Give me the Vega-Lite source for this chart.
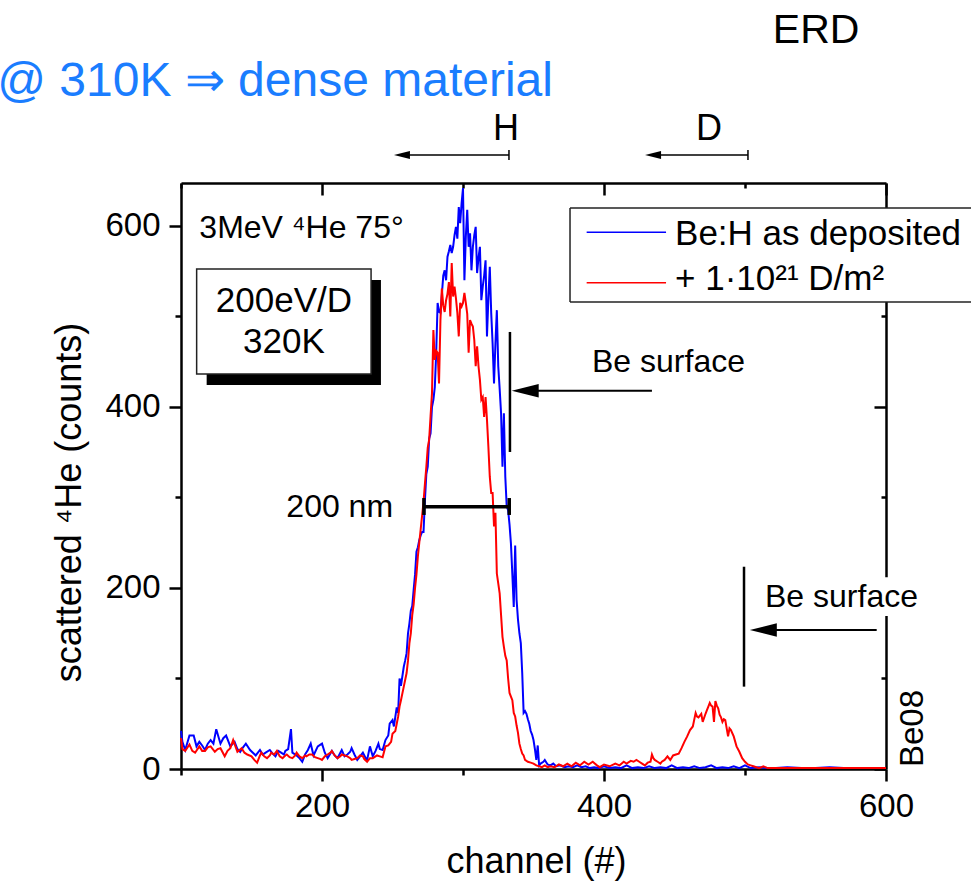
{
  "$schema": "https://vega.github.io/schema/vega-lite/v6.json",
  "width": 705,
  "height": 586,
  "autosize": "none",
  "padding": {"left": 181, "top": 183, "right": 85, "bottom": 114},
  "background": "white",
  "config": {"view": {"stroke": null}, "font": "Liberation Sans"},
  "datasets": {
    "blue": [
      {"ch":100,"cnt":42},{"ch":101,"cnt":30},{"ch":103,"cnt":21},{"ch":106,"cnt":37},{"ch":109,"cnt":37},{"ch":111,"cnt":25},{"ch":113,"cnt":30},{"ch":115,"cnt":26},{"ch":117,"cnt":21},{"ch":119,"cnt":28},{"ch":121,"cnt":32},{"ch":123,"cnt":28},{"ch":125,"cnt":44},{"ch":128,"cnt":28},{"ch":130,"cnt":34},{"ch":132,"cnt":37},{"ch":135,"cnt":25},{"ch":138,"cnt":30},{"ch":140,"cnt":22},{"ch":142,"cnt":19},{"ch":144,"cnt":24},{"ch":146,"cnt":28},{"ch":149,"cnt":21},{"ch":151,"cnt":18},{"ch":153,"cnt":15},{"ch":156,"cnt":21},{"ch":158,"cnt":16},{"ch":160,"cnt":18},{"ch":163,"cnt":21},{"ch":165,"cnt":17},{"ch":167,"cnt":14},{"ch":169,"cnt":20},{"ch":171,"cnt":18},{"ch":173,"cnt":16},{"ch":174,"cnt":20},{"ch":176,"cnt":22},{"ch":178,"cnt":44},{"ch":179,"cnt":18},{"ch":182,"cnt":15},{"ch":184,"cnt":12},{"ch":186,"cnt":8},{"ch":188,"cnt":16},{"ch":190,"cnt":21},{"ch":192,"cnt":28},{"ch":194,"cnt":15},{"ch":197,"cnt":25},{"ch":200,"cnt":28},{"ch":202,"cnt":18},{"ch":204,"cnt":12},{"ch":207,"cnt":20},{"ch":209,"cnt":15},{"ch":211,"cnt":12},{"ch":213,"cnt":18},{"ch":214,"cnt":21},{"ch":216,"cnt":14},{"ch":218,"cnt":16},{"ch":220,"cnt":19},{"ch":221,"cnt":23},{"ch":223,"cnt":16},{"ch":225,"cnt":10},{"ch":227,"cnt":14},{"ch":229,"cnt":18},{"ch":231,"cnt":12},{"ch":232,"cnt":10},{"ch":234,"cnt":25},{"ch":236,"cnt":14},{"ch":238,"cnt":20},{"ch":240,"cnt":28},{"ch":241,"cnt":22},{"ch":243,"cnt":21},{"ch":245,"cnt":32},{"ch":247,"cnt":37},{"ch":248,"cnt":50},{"ch":250,"cnt":54},{"ch":251,"cnt":47},{"ch":253,"cnt":68},{"ch":254,"cnt":62},{"ch":255,"cnt":100},{"ch":256,"cnt":92},{"ch":258,"cnt":113},{"ch":259,"cnt":120},{"ch":260,"cnt":128},{"ch":261,"cnt":150},{"ch":262,"cnt":161},{"ch":263,"cnt":175},{"ch":264,"cnt":180},{"ch":265,"cnt":198},{"ch":266,"cnt":215},{"ch":267,"cnt":240},{"ch":268,"cnt":245},{"ch":269,"cnt":253},{"ch":270,"cnt":258},{"ch":271,"cnt":262},{"ch":272,"cnt":262},{"ch":273,"cnt":297},{"ch":274,"cnt":326},{"ch":275,"cnt":334},{"ch":276,"cnt":365},{"ch":277,"cnt":371},{"ch":278,"cnt":400},{"ch":279,"cnt":408},{"ch":280,"cnt":422},{"ch":281,"cnt":460},{"ch":282,"cnt":515},{"ch":283,"cnt":505},{"ch":284,"cnt":504},{"ch":285,"cnt":524},{"ch":286,"cnt":545},{"ch":287,"cnt":551},{"ch":288,"cnt":540},{"ch":289,"cnt":566},{"ch":290,"cnt":572},{"ch":291,"cnt":579},{"ch":292,"cnt":570},{"ch":293,"cnt":577},{"ch":294,"cnt":590},{"ch":295,"cnt":599},{"ch":296,"cnt":586},{"ch":297,"cnt":621},{"ch":298,"cnt":603},{"ch":299,"cnt":625},{"ch":300,"cnt":642},{"ch":301,"cnt":540},{"ch":302,"cnt":588},{"ch":303,"cnt":618},{"ch":304,"cnt":577},{"ch":305,"cnt":592},{"ch":306,"cnt":551},{"ch":307,"cnt":577},{"ch":308,"cnt":590},{"ch":309,"cnt":599},{"ch":310,"cnt":548},{"ch":311,"cnt":565},{"ch":312,"cnt":577},{"ch":313,"cnt":518},{"ch":314,"cnt":533},{"ch":315,"cnt":545},{"ch":316,"cnt":562},{"ch":317,"cnt":478},{"ch":318,"cnt":520},{"ch":319,"cnt":555},{"ch":320,"cnt":504},{"ch":321,"cnt":470},{"ch":322,"cnt":426},{"ch":323,"cnt":470},{"ch":324,"cnt":507},{"ch":325,"cnt":445},{"ch":326,"cnt":420},{"ch":327,"cnt":393},{"ch":328,"cnt":334},{"ch":329,"cnt":393},{"ch":330,"cnt":323},{"ch":331,"cnt":290},{"ch":332,"cnt":286},{"ch":333,"cnt":270},{"ch":334,"cnt":249},{"ch":335,"cnt":215},{"ch":336,"cnt":179},{"ch":337,"cnt":247},{"ch":338,"cnt":187},{"ch":339,"cnt":165},{"ch":340,"cnt":150},{"ch":341,"cnt":139},{"ch":342,"cnt":106},{"ch":343,"cnt":62},{"ch":344,"cnt":64},{"ch":345,"cnt":61},{"ch":346,"cnt":55},{"ch":347,"cnt":50},{"ch":348,"cnt":42},{"ch":349,"cnt":38},{"ch":350,"cnt":32},{"ch":351,"cnt":22},{"ch":352,"cnt":10},{"ch":353,"cnt":26},{"ch":354,"cnt":4},{"ch":355,"cnt":6},{"ch":357,"cnt":8},{"ch":358,"cnt":10},{"ch":360,"cnt":5},{"ch":362,"cnt":4},{"ch":364,"cnt":6},{"ch":366,"cnt":3},{"ch":369,"cnt":4},{"ch":372,"cnt":2},{"ch":375,"cnt":3},{"ch":378,"cnt":2},{"ch":381,"cnt":4},{"ch":384,"cnt":2},{"ch":387,"cnt":3},{"ch":390,"cnt":1},{"ch":393,"cnt":2},{"ch":396,"cnt":1},{"ch":400,"cnt":3},{"ch":404,"cnt":1},{"ch":408,"cnt":2},{"ch":412,"cnt":1},{"ch":416,"cnt":4},{"ch":420,"cnt":1},{"ch":424,"cnt":2},{"ch":428,"cnt":1},{"ch":432,"cnt":3},{"ch":436,"cnt":1},{"ch":440,"cnt":2},{"ch":444,"cnt":1},{"ch":448,"cnt":4},{"ch":452,"cnt":1},{"ch":456,"cnt":2},{"ch":460,"cnt":1},{"ch":464,"cnt":3},{"ch":468,"cnt":1},{"ch":472,"cnt":2},{"ch":476,"cnt":4},{"ch":480,"cnt":1},{"ch":484,"cnt":2},{"ch":488,"cnt":1},{"ch":492,"cnt":3},{"ch":496,"cnt":1},{"ch":500,"cnt":4},{"ch":504,"cnt":1},{"ch":510,"cnt":2},{"ch":516,"cnt":1},{"ch":522,"cnt":1},{"ch":530,"cnt":2},{"ch":540,"cnt":1},{"ch":550,"cnt":1},{"ch":560,"cnt":2},{"ch":570,"cnt":1},{"ch":580,"cnt":1},{"ch":590,"cnt":1},{"ch":600,"cnt":1}
    ],
    "red": [
      {"ch":100,"cnt":34},{"ch":101,"cnt":22},{"ch":103,"cnt":20},{"ch":106,"cnt":27},{"ch":108,"cnt":20},{"ch":110,"cnt":18},{"ch":113,"cnt":25},{"ch":115,"cnt":20},{"ch":117,"cnt":20},{"ch":119,"cnt":24},{"ch":121,"cnt":25},{"ch":124,"cnt":19},{"ch":126,"cnt":22},{"ch":128,"cnt":23},{"ch":131,"cnt":14},{"ch":133,"cnt":20},{"ch":135,"cnt":23},{"ch":137,"cnt":32},{"ch":140,"cnt":19},{"ch":143,"cnt":23},{"ch":145,"cnt":18},{"ch":147,"cnt":16},{"ch":150,"cnt":14},{"ch":152,"cnt":10},{"ch":154,"cnt":7},{"ch":156,"cnt":15},{"ch":157,"cnt":18},{"ch":159,"cnt":14},{"ch":161,"cnt":12},{"ch":163,"cnt":15},{"ch":164,"cnt":18},{"ch":166,"cnt":16},{"ch":168,"cnt":20},{"ch":170,"cnt":14},{"ch":172,"cnt":12},{"ch":174,"cnt":15},{"ch":175,"cnt":16},{"ch":177,"cnt":13},{"ch":179,"cnt":12},{"ch":181,"cnt":15},{"ch":182,"cnt":18},{"ch":184,"cnt":14},{"ch":186,"cnt":12},{"ch":188,"cnt":15},{"ch":189,"cnt":14},{"ch":191,"cnt":16},{"ch":193,"cnt":16},{"ch":195,"cnt":13},{"ch":197,"cnt":12},{"ch":199,"cnt":11},{"ch":200,"cnt":10},{"ch":202,"cnt":14},{"ch":204,"cnt":16},{"ch":206,"cnt":18},{"ch":207,"cnt":20},{"ch":209,"cnt":15},{"ch":211,"cnt":12},{"ch":213,"cnt":14},{"ch":214,"cnt":16},{"ch":216,"cnt":15},{"ch":218,"cnt":14},{"ch":220,"cnt":12},{"ch":221,"cnt":10},{"ch":223,"cnt":11},{"ch":225,"cnt":12},{"ch":227,"cnt":15},{"ch":229,"cnt":14},{"ch":230,"cnt":11},{"ch":232,"cnt":8},{"ch":234,"cnt":12},{"ch":236,"cnt":12},{"ch":238,"cnt":14},{"ch":239,"cnt":15},{"ch":241,"cnt":14},{"ch":243,"cnt":13},{"ch":245,"cnt":25},{"ch":247,"cnt":26},{"ch":249,"cnt":30},{"ch":250,"cnt":39},{"ch":252,"cnt":42},{"ch":253,"cnt":50},{"ch":254,"cnt":58},{"ch":255,"cnt":69},{"ch":256,"cnt":76},{"ch":258,"cnt":91},{"ch":260,"cnt":106},{"ch":261,"cnt":120},{"ch":262,"cnt":139},{"ch":263,"cnt":150},{"ch":264,"cnt":170},{"ch":265,"cnt":182},{"ch":266,"cnt":200},{"ch":267,"cnt":215},{"ch":268,"cnt":235},{"ch":269,"cnt":250},{"ch":270,"cnt":265},{"ch":271,"cnt":280},{"ch":272,"cnt":295},{"ch":273,"cnt":315},{"ch":274,"cnt":334},{"ch":275,"cnt":355},{"ch":276,"cnt":364},{"ch":277,"cnt":390},{"ch":278,"cnt":415},{"ch":279,"cnt":485},{"ch":280,"cnt":452},{"ch":281,"cnt":462},{"ch":282,"cnt":460},{"ch":283,"cnt":426},{"ch":284,"cnt":496},{"ch":285,"cnt":531},{"ch":286,"cnt":512},{"ch":287,"cnt":505},{"ch":288,"cnt":518},{"ch":289,"cnt":525},{"ch":290,"cnt":538},{"ch":291,"cnt":500},{"ch":292,"cnt":559},{"ch":293,"cnt":522},{"ch":294,"cnt":533},{"ch":295,"cnt":520},{"ch":296,"cnt":504},{"ch":297,"cnt":478},{"ch":298,"cnt":515},{"ch":299,"cnt":511},{"ch":300,"cnt":515},{"ch":301,"cnt":526},{"ch":302,"cnt":515},{"ch":303,"cnt":503},{"ch":304,"cnt":460},{"ch":305,"cnt":496},{"ch":306,"cnt":492},{"ch":307,"cnt":489},{"ch":308,"cnt":474},{"ch":309,"cnt":445},{"ch":310,"cnt":467},{"ch":311,"cnt":445},{"ch":312,"cnt":430},{"ch":313,"cnt":408},{"ch":314,"cnt":411},{"ch":315,"cnt":389},{"ch":316,"cnt":411},{"ch":317,"cnt":386},{"ch":318,"cnt":356},{"ch":319,"cnt":323},{"ch":320,"cnt":305},{"ch":321,"cnt":305},{"ch":322,"cnt":268},{"ch":323,"cnt":283},{"ch":324,"cnt":216},{"ch":325,"cnt":205},{"ch":326,"cnt":194},{"ch":327,"cnt":170},{"ch":328,"cnt":146},{"ch":329,"cnt":135},{"ch":330,"cnt":125},{"ch":331,"cnt":120},{"ch":332,"cnt":100},{"ch":333,"cnt":84},{"ch":334,"cnt":80},{"ch":335,"cnt":76},{"ch":336,"cnt":62},{"ch":337,"cnt":58},{"ch":338,"cnt":48},{"ch":339,"cnt":40},{"ch":340,"cnt":28},{"ch":341,"cnt":22},{"ch":342,"cnt":17},{"ch":343,"cnt":15},{"ch":344,"cnt":10},{"ch":346,"cnt":8},{"ch":348,"cnt":7},{"ch":350,"cnt":6},{"ch":352,"cnt":4},{"ch":354,"cnt":3},{"ch":356,"cnt":2},{"ch":358,"cnt":4},{"ch":360,"cnt":2},{"ch":362,"cnt":3},{"ch":365,"cnt":2},{"ch":368,"cnt":5},{"ch":371,"cnt":3},{"ch":374,"cnt":6},{"ch":377,"cnt":3},{"ch":380,"cnt":7},{"ch":383,"cnt":4},{"ch":386,"cnt":8},{"ch":389,"cnt":5},{"ch":392,"cnt":8},{"ch":395,"cnt":4},{"ch":397,"cnt":2},{"ch":400,"cnt":5},{"ch":404,"cnt":3},{"ch":408,"cnt":6},{"ch":411,"cnt":4},{"ch":414,"cnt":8},{"ch":416,"cnt":6},{"ch":419,"cnt":9},{"ch":421,"cnt":8},{"ch":423,"cnt":10},{"ch":425,"cnt":8},{"ch":427,"cnt":6},{"ch":429,"cnt":4},{"ch":431,"cnt":7},{"ch":433,"cnt":8},{"ch":434,"cnt":16},{"ch":435,"cnt":12},{"ch":436,"cnt":10},{"ch":438,"cnt":8},{"ch":440,"cnt":6},{"ch":441,"cnt":8},{"ch":443,"cnt":10},{"ch":445,"cnt":14},{"ch":447,"cnt":10},{"ch":449,"cnt":15},{"ch":451,"cnt":16},{"ch":453,"cnt":17},{"ch":455,"cnt":23},{"ch":457,"cnt":30},{"ch":459,"cnt":36},{"ch":461,"cnt":43},{"ch":463,"cnt":47},{"ch":465,"cnt":62},{"ch":466,"cnt":58},{"ch":467,"cnt":57},{"ch":469,"cnt":61},{"ch":470,"cnt":52},{"ch":472,"cnt":61},{"ch":473,"cnt":65},{"ch":474,"cnt":69},{"ch":475,"cnt":73},{"ch":476,"cnt":70},{"ch":477,"cnt":69},{"ch":478,"cnt":52},{"ch":479,"cnt":75},{"ch":480,"cnt":70},{"ch":481,"cnt":67},{"ch":482,"cnt":60},{"ch":483,"cnt":57},{"ch":484,"cnt":52},{"ch":485,"cnt":55},{"ch":486,"cnt":54},{"ch":488,"cnt":36},{"ch":489,"cnt":45},{"ch":490,"cnt":43},{"ch":492,"cnt":36},{"ch":494,"cnt":25},{"ch":496,"cnt":19},{"ch":498,"cnt":12},{"ch":500,"cnt":8},{"ch":502,"cnt":5},{"ch":504,"cnt":4},{"ch":506,"cnt":3},{"ch":508,"cnt":2},{"ch":510,"cnt":1},{"ch":513,"cnt":3},{"ch":516,"cnt":1},{"ch":520,"cnt":1},{"ch":530,"cnt":1},{"ch":540,"cnt":1},{"ch":560,"cnt":1},{"ch":580,"cnt":1},{"ch":600,"cnt":1}
    ],
    "boxes": [
      {"k":"shadow","x1":118.2,"x2":241.8,"y1":424.3,"y2":540.3},
      {"k":"box","x1":111.1,"x2":234.8,"y1":436.5,"y2":552.5},
      {"k":"legend","x1":375.9,"x2":720,"y1":516,"y2":619.9},
      {"k":"mask","x1":512.8,"x2":625.5,"y1":169,"y2":212}
    ],
    "segs": [
      {"k":"bar","x1":333.3,"x2":333.3,"y1":350.3,"y2":482.9},
      {"k":"bar","x1":499.3,"x2":499.3,"y1":91,"y2":223.5},
      {"k":"shaft","x1":344,"x2":434,"y1":418,"y2":418},
      {"k":"shaft","x1":513,"x2":593.4,"y1":153.6,"y2":153.6},
      {"k":"nm","x1":272.3,"x2":332.8,"y1":289.8,"y2":289.8},
      {"k":"nm","x1":272.3,"x2":272.3,"y1":280.7,"y2":299.4},
      {"k":"nm","x1":332.8,"x2":332.8,"y1":280.7,"y2":299.4},
      {"k":"top","x1":256.7,"x2":332.6,"y1":678.5,"y2":678.5},
      {"k":"top","x1":332.6,"x2":332.6,"y1":673,"y2":684},
      {"k":"top","x1":434.8,"x2":502.1,"y1":678.5,"y2":678.5},
      {"k":"top","x1":502.1,"x2":502.1,"y1":673,"y2":684},
      {"k":"legframe","x1":375.9,"x2":720,"y1":619.9,"y2":619.9},
      {"k":"legframe","x1":375.9,"x2":720,"y1":516,"y2":516},
      {"k":"legframe","x1":375.9,"x2":375.9,"y1":516,"y2":619.9},
      {"k":"legb","x1":387.7,"x2":444,"y1":593,"y2":593},
      {"k":"legr","x1":387.7,"x2":444,"y1":537.3,"y2":537.3}
    ],
    "heads": [
      {"k":"big","ch":344.1,"cnt":418},
      {"k":"big","ch":513.0,"cnt":153.6},
      {"k":"small","ch":256.7,"cnt":678.5},
      {"k":"small","ch":434.8,"cnt":678.5}
    ],
    "notes": [
      {"k":"title","ch":363.8,"cnt":743.6,"t":"@ 310K ⇒ dense material"},
      {"k":"erd","ch":550.4,"cnt":802,"t":"ERD"},
      {"k":"hd","ch":330.5,"cnt":695,"t":"H"},
      {"k":"hd","ch":474.5,"cnt":695,"t":"D"},
      {"k":"beam","ch":113.0,"cnt":586.7,"t":"3MeV ⁴He 75°"},
      {"k":"box","ch":173,"cnt":505,"t":"200eV/D"},
      {"k":"box","ch":173,"cnt":459.7,"t":"320K"},
      {"k":"bes","ch":391.5,"cnt":438.7,"t":"Be surface"},
      {"k":"bes","ch":514.2,"cnt":179,"t":"Be surface"},
      {"k":"nm","ch":250.4,"cnt":278.5,"t":"200 nm"},
      {"k":"be08","ch":626.2,"cnt":2.2,"t":"Be08"},
      {"k":"leg","ch":450.4,"cnt":579,"t":"Be:H as deposited"},
      {"k":"leg","ch":450.4,"cnt":529.3,"t":"+ 1·10²¹ D/m²"}
    ]
  },
  "layer": [
    {
      "data": {"name": "blue"},
      "mark": {"type": "line", "color": "#0000ff", "strokeWidth": 2},
      "encoding": {
        "x": {"field": "ch", "type": "quantitative", "scale": {"domain": [100, 600], "nice": false, "zero": false},
          "axis": {"orient": "bottom", "values": [100,200,300,400,500,600], "labelExpr": "datum.value % 200 === 0 ? datum.label : ''",
            "tickSize": {"condition": {"test": "datum.value % 200 === 0", "value": 12}, "value": 6},
            "tickWidth": 2.5, "tickColor": "black", "domainWidth": 2.5, "domainColor": "black", "grid": false,
            "labelFontSize": 33, "labelColor": "black", "labelFont": "Liberation Sans", "labelPadding": 9, "labelFlush": false, "labelOverlap": false,
            "title": "channel (#)", "titleFontSize": 36, "titleFontWeight": "normal", "titleColor": "black", "titleFont": "Liberation Sans",
            "titleX": 355, "titleY": 103, "titleBaseline": "alphabetic", "titleAlign": "center"}},
        "y": {"field": "cnt", "type": "quantitative", "scale": {"domain": [0, 647.5], "nice": false},
          "axis": {"orient": "left", "values": [0,100,200,300,400,500,600], "labelExpr": "datum.value % 200 === 0 ? datum.label : ''",
            "tickSize": {"condition": {"test": "datum.value % 200 === 0", "value": 12}, "value": 6},
            "tickWidth": 2.5, "tickColor": "black", "domainWidth": 2.5, "domainColor": "black", "grid": false,
            "labelFontSize": 33, "labelColor": "black", "labelFont": "Liberation Sans", "labelPadding": 9, "labelFlush": false, "labelOverlap": false,
            "title": "scattered ⁴He (counts)", "titleFontSize": 36, "titleFontWeight": "normal", "titleColor": "black", "titleFont": "Liberation Sans",
            "titleX": -101, "titleY": 319, "titleAngle": 270, "titleBaseline": "alphabetic", "titleAlign": "center"}}
      }
    },
    {
      "data": {"name": "red"},
      "mark": {"type": "line", "color": "#ff0000", "strokeWidth": 2},
      "encoding": {
        "x": {"field": "ch", "type": "quantitative", "scale": {"domain": [100, 600], "nice": false, "zero": false},
          "axis": {"orient": "top", "values": [100,200,300,400,500,600], "labels": false, "title": null,
            "tickSize": {"condition": {"test": "datum.value % 200 === 0", "value": -12}, "value": -5},
            "tickWidth": 2.5, "tickColor": "black", "domainWidth": 2.5, "domainColor": "black", "grid": false}},
        "y": {"field": "cnt", "type": "quantitative", "scale": {"domain": [0, 647.5], "nice": false},
          "axis": {"orient": "right", "values": [0,100,200,300,400,500,600], "labels": false, "title": null,
            "tickSize": {"condition": {"test": "datum.value % 200 === 0", "value": -12}, "value": -5},
            "tickWidth": 2.5, "tickColor": "black", "domainWidth": 2.5, "domainColor": "black", "grid": false}}
      }
    },
    {
      "data": {"name": "boxes"},
      "transform": [{"filter": "datum.k === 'shadow'"}],
      "mark": {"type": "rect", "color": "black"},
      "encoding": {
        "x": {"field": "x1", "type": "quantitative", "scale": {"domain": [100, 600], "nice": false, "zero": false}, "axis": null},
        "x2": {"field": "x2"},
        "y": {"field": "y1", "type": "quantitative", "scale": {"domain": [0, 647.5], "nice": false}, "axis": null},
        "y2": {"field": "y2"}
      }
    },
    {
      "data": {"name": "boxes"},
      "transform": [{"filter": "datum.k === 'box'"}],
      "mark": {"type": "rect", "fill": "white", "stroke": "#222222", "strokeWidth": 1.5},
      "encoding": {
        "x": {"field": "x1", "type": "quantitative", "scale": {"domain": [100, 600], "nice": false, "zero": false}, "axis": null},
        "x2": {"field": "x2"},
        "y": {"field": "y1", "type": "quantitative", "scale": {"domain": [0, 647.5], "nice": false}, "axis": null},
        "y2": {"field": "y2"}
      }
    },
    {
      "data": {"name": "boxes"},
      "transform": [{"filter": "datum.k === 'mask' || datum.k === 'legend'"}],
      "mark": {"type": "rect", "fill": "white"},
      "encoding": {
        "x": {"field": "x1", "type": "quantitative", "scale": {"domain": [100, 600], "nice": false, "zero": false}, "axis": null},
        "x2": {"field": "x2"},
        "y": {"field": "y1", "type": "quantitative", "scale": {"domain": [0, 647.5], "nice": false}, "axis": null},
        "y2": {"field": "y2"}
      }
    },
    {
      "data": {"name": "segs"},
      "transform": [{"filter": "datum.k === 'legframe'"}],
      "mark": {"type": "rule", "color": "#222222", "strokeWidth": 1.5},
      "encoding": {
        "x": {"field": "x1", "type": "quantitative", "scale": {"domain": [100, 600], "nice": false, "zero": false}, "axis": null},
        "x2": {"field": "x2"},
        "y": {"field": "y1", "type": "quantitative", "scale": {"domain": [0, 647.5], "nice": false}, "axis": null},
        "y2": {"field": "y2"}
      }
    },
    {
      "data": {"name": "segs"},
      "transform": [{"filter": "datum.k === 'bar'"}],
      "mark": {"type": "rule", "color": "black", "strokeWidth": 2.5},
      "encoding": {
        "x": {"field": "x1", "type": "quantitative", "scale": {"domain": [100, 600], "nice": false, "zero": false}, "axis": null},
        "x2": {"field": "x2"},
        "y": {"field": "y1", "type": "quantitative", "scale": {"domain": [0, 647.5], "nice": false}, "axis": null},
        "y2": {"field": "y2"}
      }
    },
    {
      "data": {"name": "segs"},
      "transform": [{"filter": "datum.k === 'shaft'"}],
      "mark": {"type": "rule", "color": "black", "strokeWidth": 2},
      "encoding": {
        "x": {"field": "x1", "type": "quantitative", "scale": {"domain": [100, 600], "nice": false, "zero": false}, "axis": null},
        "x2": {"field": "x2"},
        "y": {"field": "y1", "type": "quantitative", "scale": {"domain": [0, 647.5], "nice": false}, "axis": null},
        "y2": {"field": "y2"}
      }
    },
    {
      "data": {"name": "segs"},
      "transform": [{"filter": "datum.k === 'nm'"}],
      "mark": {"type": "rule", "color": "black", "strokeWidth": 3.5},
      "encoding": {
        "x": {"field": "x1", "type": "quantitative", "scale": {"domain": [100, 600], "nice": false, "zero": false}, "axis": null},
        "x2": {"field": "x2"},
        "y": {"field": "y1", "type": "quantitative", "scale": {"domain": [0, 647.5], "nice": false}, "axis": null},
        "y2": {"field": "y2"}
      }
    },
    {
      "data": {"name": "segs"},
      "transform": [{"filter": "datum.k === 'top'"}],
      "mark": {"type": "rule", "color": "black", "strokeWidth": 1.5},
      "encoding": {
        "x": {"field": "x1", "type": "quantitative", "scale": {"domain": [100, 600], "nice": false, "zero": false}, "axis": null},
        "x2": {"field": "x2"},
        "y": {"field": "y1", "type": "quantitative", "scale": {"domain": [0, 647.5], "nice": false}, "axis": null},
        "y2": {"field": "y2"}
      }
    },
    {
      "data": {"name": "segs"},
      "transform": [{"filter": "datum.k === 'legb'"}],
      "mark": {"type": "rule", "color": "#0000ff", "strokeWidth": 1.5},
      "encoding": {
        "x": {"field": "x1", "type": "quantitative", "scale": {"domain": [100, 600], "nice": false, "zero": false}, "axis": null},
        "x2": {"field": "x2"},
        "y": {"field": "y1", "type": "quantitative", "scale": {"domain": [0, 647.5], "nice": false}, "axis": null},
        "y2": {"field": "y2"}
      }
    },
    {
      "data": {"name": "segs"},
      "transform": [{"filter": "datum.k === 'legr'"}],
      "mark": {"type": "rule", "color": "#ff0000", "strokeWidth": 1.5},
      "encoding": {
        "x": {"field": "x1", "type": "quantitative", "scale": {"domain": [100, 600], "nice": false, "zero": false}, "axis": null},
        "x2": {"field": "x2"},
        "y": {"field": "y1", "type": "quantitative", "scale": {"domain": [0, 647.5], "nice": false}, "axis": null},
        "y2": {"field": "y2"}
      }
    },
    {
      "data": {"name": "heads"},
      "transform": [{"filter": "datum.k === 'big'"}],
      "mark": {"type": "point", "shape": "M-1,0L1,-0.5L1,0.5Z", "filled": true, "color": "black", "opacity": 1, "size": 729, "strokeWidth": 0},
      "encoding": {
        "x": {"field": "ch", "type": "quantitative", "scale": {"domain": [100, 600], "nice": false, "zero": false}, "axis": null},
        "y": {"field": "cnt", "type": "quantitative", "scale": {"domain": [0, 647.5], "nice": false}, "axis": null}
      }
    },
    {
      "data": {"name": "heads"},
      "transform": [{"filter": "datum.k === 'small'"}],
      "mark": {"type": "point", "shape": "M-1,0L1,-0.5L1,0.5Z", "filled": true, "color": "black", "opacity": 1, "size": 256, "strokeWidth": 0},
      "encoding": {
        "x": {"field": "ch", "type": "quantitative", "scale": {"domain": [100, 600], "nice": false, "zero": false}, "axis": null},
        "y": {"field": "cnt", "type": "quantitative", "scale": {"domain": [0, 647.5], "nice": false}, "axis": null}
      }
    },
    {
      "data": {"name": "notes"},
      "transform": [{"filter": "datum.k === 'title'"}],
      "mark": {"type": "text", "font": "Liberation Sans", "fontSize": 48, "align": "right", "baseline": "alphabetic", "color": "#1a7dff"},
      "encoding": {
        "x": {"field": "ch", "type": "quantitative", "scale": {"domain": [100, 600], "nice": false, "zero": false}, "axis": null},
        "y": {"field": "cnt", "type": "quantitative", "scale": {"domain": [0, 647.5], "nice": false}, "axis": null},
        "text": {"field": "t"}
      }
    },
    {
      "data": {"name": "notes"},
      "transform": [{"filter": "datum.k === 'erd'"}],
      "mark": {"type": "text", "font": "Liberation Sans", "fontSize": 41, "align": "center", "baseline": "alphabetic", "color": "black"},
      "encoding": {
        "x": {"field": "ch", "type": "quantitative", "scale": {"domain": [100, 600], "nice": false, "zero": false}, "axis": null},
        "y": {"field": "cnt", "type": "quantitative", "scale": {"domain": [0, 647.5], "nice": false}, "axis": null},
        "text": {"field": "t"}
      }
    },
    {
      "data": {"name": "notes"},
      "transform": [{"filter": "datum.k === 'hd'"}],
      "mark": {"type": "text", "font": "Liberation Sans", "fontSize": 36, "align": "center", "baseline": "alphabetic", "color": "black"},
      "encoding": {
        "x": {"field": "ch", "type": "quantitative", "scale": {"domain": [100, 600], "nice": false, "zero": false}, "axis": null},
        "y": {"field": "cnt", "type": "quantitative", "scale": {"domain": [0, 647.5], "nice": false}, "axis": null},
        "text": {"field": "t"}
      }
    },
    {
      "data": {"name": "notes"},
      "transform": [{"filter": "datum.k === 'beam'"}],
      "mark": {"type": "text", "font": "Liberation Sans", "fontSize": 32, "align": "left", "baseline": "alphabetic", "color": "black"},
      "encoding": {
        "x": {"field": "ch", "type": "quantitative", "scale": {"domain": [100, 600], "nice": false, "zero": false}, "axis": null},
        "y": {"field": "cnt", "type": "quantitative", "scale": {"domain": [0, 647.5], "nice": false}, "axis": null},
        "text": {"field": "t"}
      }
    },
    {
      "data": {"name": "notes"},
      "transform": [{"filter": "datum.k === 'box'"}],
      "mark": {"type": "text", "font": "Liberation Sans", "fontSize": 35, "align": "center", "baseline": "alphabetic", "color": "black"},
      "encoding": {
        "x": {"field": "ch", "type": "quantitative", "scale": {"domain": [100, 600], "nice": false, "zero": false}, "axis": null},
        "y": {"field": "cnt", "type": "quantitative", "scale": {"domain": [0, 647.5], "nice": false}, "axis": null},
        "text": {"field": "t"}
      }
    },
    {
      "data": {"name": "notes"},
      "transform": [{"filter": "datum.k === 'bes'"}],
      "mark": {"type": "text", "font": "Liberation Sans", "fontSize": 32, "align": "left", "baseline": "alphabetic", "color": "black"},
      "encoding": {
        "x": {"field": "ch", "type": "quantitative", "scale": {"domain": [100, 600], "nice": false, "zero": false}, "axis": null},
        "y": {"field": "cnt", "type": "quantitative", "scale": {"domain": [0, 647.5], "nice": false}, "axis": null},
        "text": {"field": "t"}
      }
    },
    {
      "data": {"name": "notes"},
      "transform": [{"filter": "datum.k === 'nm'"}],
      "mark": {"type": "text", "font": "Liberation Sans", "fontSize": 32, "align": "right", "baseline": "alphabetic", "color": "black"},
      "encoding": {
        "x": {"field": "ch", "type": "quantitative", "scale": {"domain": [100, 600], "nice": false, "zero": false}, "axis": null},
        "y": {"field": "cnt", "type": "quantitative", "scale": {"domain": [0, 647.5], "nice": false}, "axis": null},
        "text": {"field": "t"}
      }
    },
    {
      "data": {"name": "notes"},
      "transform": [{"filter": "datum.k === 'be08'"}],
      "mark": {"type": "text", "font": "Liberation Sans", "fontSize": 33, "align": "left", "baseline": "alphabetic", "angle": 270, "color": "black"},
      "encoding": {
        "x": {"field": "ch", "type": "quantitative", "scale": {"domain": [100, 600], "nice": false, "zero": false}, "axis": null},
        "y": {"field": "cnt", "type": "quantitative", "scale": {"domain": [0, 647.5], "nice": false}, "axis": null},
        "text": {"field": "t"}
      }
    },
    {
      "data": {"name": "notes"},
      "transform": [{"filter": "datum.k === 'leg'"}],
      "mark": {"type": "text", "font": "Liberation Sans", "fontSize": 35, "align": "left", "baseline": "alphabetic", "color": "black"},
      "encoding": {
        "x": {"field": "ch", "type": "quantitative", "scale": {"domain": [100, 600], "nice": false, "zero": false}, "axis": null},
        "y": {"field": "cnt", "type": "quantitative", "scale": {"domain": [0, 647.5], "nice": false}, "axis": null},
        "text": {"field": "t"}
      }
    }
  ],
  "resolve": {"axis": {"x": "independent", "y": "independent"}}
}
